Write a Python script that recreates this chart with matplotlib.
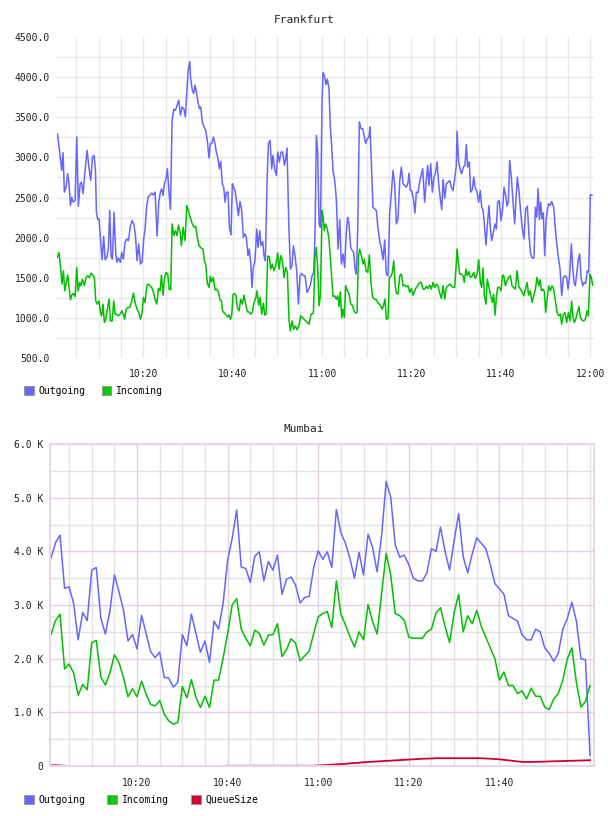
import matplotlib
matplotlib.use("Agg")
import matplotlib.pyplot as plt
import matplotlib.dates as mdates
from matplotlib.patches import Patch
from matplotlib.ticker import MultipleLocator, FixedLocator, FuncFormatter
import numpy as np
import pandas as pd

# ---- Frankfurt (minutes after 10:00, value) ----
fra_out_t = [
    0.77, 1.29, 1.74, 2.04, 2.34, 2.71, 3.08, 3.38, 3.68, 3.98, 4.28, 4.73, 5.10, 5.47, 5.85, 6.14,
    6.52, 6.96, 7.41, 7.86, 8.23, 8.61, 8.98, 9.28, 9.50, 9.80, 10.10, 10.47, 10.77, 11.14, 11.44,
    11.81, 12.19, 12.48, 12.78, 13.08, 13.45, 13.83, 14.12, 14.42, 14.87, 15.17, 15.54, 15.92, 16.29,
    16.66, 17.11, 17.48, 17.86, 18.23, 18.60, 18.97, 19.35, 19.72, 20.09, 20.39, 20.77, 21.14, 21.51,
    21.88, 22.26, 22.63, 23.08, 23.45, 23.82, 24.12, 24.42, 24.72, 25.09, 25.39, 25.69, 26.06, 26.43,
    26.81, 27.18, 27.55, 27.93, 28.30, 28.67, 29.05, 29.42, 29.79, 30.09, 30.39,
    30.59, 30.97, 31.26, 31.56, 31.86, 32.23, 32.53, 32.83, 33.20, 33.58, 33.95, 34.32, 34.70, 34.99,
    35.29, 35.67, 36.04, 36.34, 36.64, 37.01, 37.31, 37.68, 37.98, 38.28, 38.58, 38.95, 39.25, 39.62,
    39.92, 40.22, 40.59, 40.89, 41.26, 41.63, 42.01, 42.38, 42.75, 43.05, 43.42, 43.72, 44.02, 44.32,
    44.62, 44.99, 45.36, 45.66, 46.04, 46.33, 46.71, 47.00, 47.30, 47.68, 47.98, 48.35, 48.72, 49.02,
    49.39, 49.77, 50.06, 50.44, 50.81, 51.18, 51.56, 51.85, 52.15, 52.53, 52.90, 53.27, 53.57, 53.94,
    54.32, 54.69, 55.06, 55.43, 55.81, 56.18, 56.63, 57.00, 57.37, 57.75, 58.12, 58.42, 58.72, 59.02,
    59.31, 59.61, 59.99,
    60.20, 60.57, 60.87, 61.17, 61.54, 61.84, 62.14, 62.44, 62.81, 63.18, 63.56, 63.93, 64.30, 64.68,
    65.05, 65.42, 65.72, 66.02, 66.39, 66.76, 67.06, 67.36, 67.66, 67.96, 68.33, 68.70, 69.08, 69.45,
    69.75, 70.12, 70.49, 70.72, 71.09, 71.39, 71.76, 72.14, 72.43, 72.88, 73.26, 73.63, 74.00, 74.37,
    74.75, 75.12, 75.49, 75.87, 76.24, 76.61, 76.99, 77.36, 77.73, 78.10, 78.48, 78.85, 79.22, 79.45,
    79.75, 80.04, 80.42, 80.79, 81.09, 81.46, 81.83, 82.21, 82.51, 82.95, 83.33, 83.62, 83.92, 84.30,
    84.67, 85.04, 85.41, 85.71, 86.09, 86.46, 86.76, 87.06, 87.43, 87.80, 88.18, 88.55, 88.92, 89.29,
    89.67, 90.04,
    90.18, 90.55, 90.93, 91.22, 91.60, 91.97, 92.27, 92.57, 92.94, 93.24, 93.61, 93.91, 94.28, 94.66,
    95.03, 95.40, 95.70, 96.00, 96.30, 96.67, 96.97, 97.34, 97.64, 97.94, 98.31, 98.68, 98.98, 99.28,
    99.65, 100.03, 100.40, 100.70, 101.07, 101.37, 101.67, 101.97, 102.34, 102.71, 103.09, 103.38,
    103.68, 104.06, 104.43, 104.80, 105.17, 105.55, 105.92, 106.29, 106.67, 107.04, 107.41, 107.71,
    108.01, 108.31, 108.61, 108.90, 109.20, 109.50, 109.80, 110.10, 110.40, 110.69, 110.99, 111.37,
    111.81, 112.19, 112.56, 112.93, 113.23, 113.60, 113.98, 114.35, 114.72, 115.02, 115.39, 115.77,
    116.07, 116.36, 116.66, 117.04, 117.33, 117.63, 117.93, 118.30, 118.60, 118.97, 119.35, 119.65,
    120.02, 120.39,
]
fra_out_v = [
    3295, 3067, 2838, 3058, 2567, 2629, 2796, 2671, 2400, 2504, 2442, 2462, 3254, 2392, 2671, 2692,
    2546, 2838, 3088, 2858, 2712, 3004, 3025, 2838, 2317, 2225, 2233, 1942, 1725, 2017, 1725,
    1754, 1858, 2338, 1775, 1733, 2317, 1796, 1692, 1746, 1692, 1817, 1733, 1942, 1983,
    1962, 2150, 2212, 2171, 2025, 1712, 1921, 1671, 1692, 1983, 2108, 2400, 2512, 2533,
    2554, 2533, 2567, 2017, 2442, 2567, 2608, 2525, 2671, 2733, 2858, 2608, 2350, 3462,
    3600, 3587, 3650, 3712, 3525, 3629, 3608, 3504, 3879, 4108, 4192,
    3983, 3837, 3796, 3900, 3817, 3692, 3608, 3629, 3442, 3379, 3338, 3212, 2992, 3171,
    3171, 3254, 3171, 3067, 3004, 2858, 2950, 2671, 2629, 2442, 2567, 2567, 2129, 2033,
    2671, 2629, 2567, 2442, 2275, 2450, 2338, 2004, 2046, 2004, 1775, 1858, 1692, 1379,
    1629, 1712, 2108, 1879, 2087, 1900, 1950, 1775, 1712, 2692, 3171, 3212, 2858, 3025,
    2858, 2775, 3067, 2942, 3067, 3067, 2900, 2983, 3117, 2192, 1608, 1650, 1900, 1775,
    1587, 1171, 1525, 1554, 1525, 1525, 1317, 1358, 1408, 1525, 1567, 2067, 3275, 3067,
    2171, 2129, 3692,
    4058, 4004, 3908, 3975, 3858, 3379, 3150, 2838, 2712, 2483, 1858, 2225, 1671, 1796,
    1629, 2067, 2254, 2171, 1879, 1837, 1817, 1608, 1546, 2108, 3442, 3358, 3358, 3254,
    3171, 3233, 3254, 3379, 2838, 2379, 2358, 2338, 2150, 1962, 1858, 1725, 1971, 1546,
    1525, 2296, 2546, 2838, 2671, 2171, 2233, 2712, 2879, 2671, 2650, 2629, 2683, 2804,
    2587, 2587, 2483, 2308, 2567, 2558, 2692, 2796, 2858, 2442, 2733, 2900, 2650, 2921,
    2567, 2754, 2817, 2942, 2671, 2475, 2350, 2725, 2492, 2671, 2692, 2712, 2629, 2587,
    2733, 2900,
    3325, 2942, 2838, 2796, 2879, 2900, 3158, 2879, 2942, 2567, 2600, 2754, 2617, 2567,
    2442, 2587, 2379, 2350, 2171, 1908, 2150, 2400, 2129, 1962, 2067, 2171, 2108, 2442,
    2462, 2212, 2358, 2629, 2525, 2392, 2442, 2962, 2754, 2442, 2171, 2483,
    2754, 2567, 2317, 2108, 1983, 2358, 2392, 2025, 1796, 1742, 1754, 2379,
    2254, 2608, 2225, 2442, 2233, 2308, 1775, 2212, 2338, 2421, 2400, 2450,
    2379, 2108, 1892, 1725, 1608, 1275, 1504, 1525, 1504, 1358, 1525, 1921,
    1629, 1442, 1400, 1587, 1733, 1796, 1504, 1400, 1442, 1429, 1587, 1567,
    2533, 2533,
]
fra_in_t = [
    0.77, 1.14, 1.52, 1.82, 2.12, 2.41, 2.79, 3.08, 3.38, 3.68, 3.98, 4.28, 4.73, 5.10, 5.40, 5.77,
    6.07, 6.37, 6.81, 7.19, 7.56, 7.93, 8.31, 8.68, 9.05, 9.35, 9.72, 10.10, 10.40, 10.69, 10.99,
    11.29, 11.59, 11.96, 12.33, 12.63, 13.01, 13.38, 13.68, 14.05, 14.42, 14.80, 15.17, 15.54, 15.84,
    16.14, 16.51, 16.96, 17.41, 17.78, 18.15, 18.60, 18.97, 19.35, 19.72, 20.02, 20.39, 20.77, 21.14,
    21.51, 21.88, 22.26, 22.63, 23.00, 23.38, 23.75, 24.05, 24.42, 24.72, 25.09, 25.46, 25.76, 26.14,
    26.43, 26.81, 27.18, 27.55, 27.85, 28.23, 28.52, 28.90, 29.34, 29.72, 30.09,
    30.59, 30.97, 31.34, 31.71, 32.09, 32.46, 32.91, 33.35, 33.65, 33.95, 34.32, 34.70, 34.99, 35.29,
    35.67, 36.04, 36.41, 36.79, 37.16, 37.46, 37.75, 38.13, 38.50, 38.87, 39.17, 39.47, 39.77, 40.07,
    40.44, 40.74, 41.04, 41.41, 41.78, 42.16, 42.53, 42.90, 43.28, 43.65, 44.02, 44.39, 44.77, 45.14,
    45.44, 45.81, 46.11, 46.48, 46.86, 47.15, 47.45, 47.83, 48.20, 48.50, 48.87, 49.24, 49.62, 50.06,
    50.36, 50.74, 51.11, 51.48, 51.85, 52.23, 52.60, 52.90, 53.27, 53.64, 54.02, 54.39, 54.76, 55.21,
    55.58, 55.96, 56.33, 56.70, 57.08, 57.52, 58.05, 58.42, 58.72, 59.02, 59.31, 59.61, 59.99,
    60.20, 60.50, 60.80, 61.17, 61.54, 61.84, 62.14, 62.44, 62.81, 63.18, 63.48, 63.78, 64.08, 64.38,
    64.68, 64.97, 65.27, 65.65, 66.02, 66.39, 66.76, 67.14, 67.51, 67.81, 68.11, 68.41, 68.78, 69.15,
    69.45, 69.82, 70.20, 70.57, 70.94, 71.32, 71.69, 72.06, 72.43, 72.81, 73.18, 73.48, 73.78, 74.08,
    74.37, 74.75, 75.05, 75.42, 75.72, 76.02, 76.31, 76.61, 76.99, 77.36, 77.73, 78.10, 78.48, 78.85,
    79.22, 79.60, 79.97, 80.34, 80.72, 81.09, 81.46, 81.83, 82.21, 82.58, 82.95, 83.33, 83.70, 84.07,
    84.45, 84.82, 85.19, 85.56, 85.94, 86.31, 86.68, 87.06, 87.43, 87.80, 88.18, 88.55, 88.92, 89.29,
    89.67, 90.04,
    90.18, 90.48, 90.78, 91.15, 91.52, 91.82, 92.19, 92.49, 92.87, 93.16, 93.54, 93.91, 94.28, 94.66,
    95.03, 95.40, 95.70, 96.00, 96.30, 96.67, 96.97, 97.34, 97.71, 98.09, 98.39, 98.68, 98.98, 99.28,
    99.65, 100.03, 100.33, 100.62, 101.00, 101.37, 101.74, 102.12, 102.49, 102.86, 103.24, 103.61,
    103.98, 104.35, 104.73, 105.10, 105.47, 105.85, 106.22, 106.59, 106.97, 107.34, 107.71, 108.08,
    108.46, 108.76, 109.05, 109.43, 109.73, 110.02, 110.32, 110.69, 111.07, 111.44, 111.81, 112.19,
    112.56, 112.93, 113.31, 113.60, 113.98, 114.35, 114.72, 115.10, 115.47, 115.84, 116.14, 116.44,
    116.74, 117.19, 117.48, 117.78, 118.16, 118.53, 118.90, 119.27, 119.57, 119.94, 120.24, 120.54,
]
fra_in_v = [
    1754, 1817, 1608, 1421, 1587, 1337, 1442, 1533, 1379, 1225, 1283, 1304, 1267, 1629, 1337, 1442,
    1400, 1483, 1400, 1504, 1525, 1504, 1558, 1533, 1504, 1212, 1171, 1212, 1067, 1025, 1171,
    942, 983, 1108, 1233, 962, 962, 1212, 1046, 1046, 1025, 1046, 1087, 1046, 983,
    1108, 1129, 1129, 1212, 1308, 1192, 1108, 1067, 983, 1067, 1254, 1192, 1400, 1421,
    1400, 1379, 1317, 1233, 1171, 1367, 1337, 1533, 1283, 1492, 1567, 1546, 1358, 1350,
    2171, 2025, 2087, 2025, 2158, 2067, 1900, 2129, 1962, 2400, 2338,
    2233, 2171, 2129, 2142, 2004, 1900, 1871, 1858, 1712, 1671, 1433, 1379, 1517, 1450,
    1504, 1350, 1358, 1325, 1225, 1212, 1087, 1058, 1037, 1012, 1037, 983, 1025, 1288,
    1304, 1275, 1129, 1087, 1233, 1171, 1283, 1171, 1075, 1075, 1046, 1067, 1192, 1242,
    1337, 1158, 1254, 1046, 1183, 1033, 1046, 1767, 1767, 1608, 1671, 1587, 1650, 1808,
    1608, 1775, 1712, 1504, 1629, 1567, 962, 837, 962, 858, 900, 850, 900, 1025,
    1004, 983, 962, 942, 921, 1046, 1058, 1754, 1879, 1608, 1150, 1275, 2338,
    2275, 2087, 2171, 2108, 1983, 1754, 1504, 1267, 1275, 1233, 1275, 1142, 1325, 1004,
    1108, 1004, 1400, 1337, 1308, 1171, 1158, 1087, 1058, 1067, 1754, 1858, 1775, 1671,
    1733, 1587, 1567, 1783, 1442, 1254, 1233, 1233, 1192, 1171, 1142, 1108, 1171, 1233,
    983, 992, 1504, 1517, 1567, 1712, 1421, 1308, 1296, 1525, 1546, 1400, 1408, 1388,
    1400, 1317, 1367, 1283, 1337, 1379, 1408, 1442, 1442, 1358, 1358, 1392, 1367, 1408,
    1358, 1442, 1379, 1421, 1400, 1308, 1242, 1400, 1233, 1379, 1400, 1421, 1400, 1379,
    1379, 1692,
    1858, 1692, 1546, 1546, 1525, 1442, 1608, 1525, 1575, 1504, 1517, 1567, 1492, 1546,
    1725, 1442, 1379, 1621, 1275, 1171, 1483, 1379, 1283, 1192, 1296, 1033, 1254, 1379,
    1379, 1337, 1525, 1533, 1400, 1462, 1504, 1525, 1400, 1379, 1358, 1587,
    1400, 1358, 1325, 1275, 1358, 1442, 1283, 1337, 1192, 1275, 1358, 1504,
    1400, 1475, 1337, 1358, 1325, 1067, 1212, 1400, 1337, 1400, 1358, 1212,
    1067, 1025, 1046, 921, 1046, 1067, 942, 1067, 962, 1212, 1004, 942,
    983, 1087, 1142, 1004, 971, 962, 983, 1087, 1025, 1546, 1504, 1408,
]

# ---- Mumbai (one sample per minute from 10:01) ----
mum_out = [
    3870, 4160, 4300, 3310, 3340, 3030, 2350, 2860, 2710, 3650, 3700, 2760, 2460, 2880, 3560, 3250,
    2910, 2330, 2450, 2180, 2810, 2470, 2130, 2020, 2120, 1650, 1640, 1470, 1560, 2450, 2240, 2830,
    2470, 2120, 2330, 1930, 2700, 2550, 3030, 3840, 4240,
    4770, 3710, 3680, 3420, 3910, 3990, 3450, 3810, 3650, 3930, 3200, 3480, 3520, 3370, 3040, 3140,
    3160, 3700, 4010, 3850, 3990, 3700, 4780, 4350, 4150, 3870, 3500, 3980, 3560, 4320, 4070, 3620,
    4300, 5300, 5010, 4120, 3890, 3930, 3750, 3500,
    3450, 3450, 3600, 4050, 4000, 4450, 4000, 3650, 4200, 4700, 3900, 3600, 3950, 4250, 4150, 4050,
    3750, 3400, 3300, 3200, 2800, 2750, 2700, 2450, 2350, 2350, 2550, 2500, 2200, 2100, 1950, 2100,
    2550, 2750, 3050, 2700, 2000, 1980, 200,
]
mum_in = [
    2450, 2710, 2830, 1810, 1900, 1730, 1320, 1520, 1420, 2300, 2340, 1660, 1510, 1730, 2070, 1930,
    1650, 1290, 1440, 1290, 1580, 1340, 1150, 1120, 1220, 970, 840, 780, 810, 1480, 1270, 1610,
    1280, 1090, 1300, 1090, 1600, 1600, 2010, 2470, 3000,
    3120, 2550, 2380, 2240, 2530, 2470, 2250, 2440, 2450, 2650, 2040, 2170, 2370, 2290, 1960, 2050,
    2140, 2470, 2780, 2840, 2880, 2580, 3450, 2830, 2630, 2410, 2220, 2500, 2350, 3010, 2690, 2460,
    3220, 3960, 3560, 2840, 2800, 2710, 2400, 2380,
    2380, 2380, 2500, 2550, 2850, 2950, 2600, 2300, 2850, 3200, 2500, 2800, 2650, 2900, 2600, 2400,
    2200, 2000, 1600, 1750, 1500, 1500, 1350, 1400, 1250, 1450, 1300, 1300, 1100, 1050, 1250, 1350,
    1600, 2000, 2200, 1550, 1100, 1200, 1500,
]
mum_queue = [
    10, 15, 10, 5, 0, 0, 0, 0, 0, 0, 0, 0, 0, 0, 0, 0,
    0, 0, 0, 0, 0, 0, 0, 0, 0, 0, 0, 0, 0, 0, 0, 0,
    0, 0, 0, 0, 0, 0, 0, 5, 5, 5, 5, 5, 5, 5, 5, 5,
    5, 5, 5, 5, 5, 5, 5, 5, 5, 5, 5, 10, 15, 20, 25, 30,
    35, 40, 50, 55, 60, 70, 75, 80, 85, 90, 95, 100, 105, 110, 115, 120,
    125, 130, 135, 138, 140, 145, 145, 145, 145, 145, 145, 145, 145, 145, 145, 145,
    140, 135, 130, 125, 115, 105, 95, 85, 78, 75, 75, 78, 80, 82, 85, 88,
    90, 92, 95, 98, 100, 102, 105, 108,
]

top_ticks = ["10:20", "10:40", "11:00", "11:20", "11:40", "12:00"]
bottom_ticks = ["10:20", "10:40", "11:00", "11:20", "11:40"]

C_OUT = "#6666ff"
C_IN = "#00c000"
C_Q = "#cc0033"

day = np.datetime64("2020-01-01T10:00")


def clock(minutes):
    secs = np.round(np.asarray(minutes) * 60).astype(int)
    return day + secs.astype("timedelta64[s]")


def hhmm(labels):
    return [np.datetime64("2020-01-01T" + s) for s in labels]


plt.rcParams["font.family"] = ["DejaVu Sans Mono"]
plt.rcParams["font.size"] = 7

fig = plt.figure(figsize=(6.08, 8.16), dpi=100)
W, H = 608, 816


def box(l, t, r, b):
    return [l / W, 1 - b / H, (r - l) / W, (b - t) / H]


# ---------- Frankfurt ----------
ax1 = fig.add_axes(box(57, 37, 594, 358))
ax1.plot(clock(fra_out_t), fra_out_v, color=C_OUT, lw=1.1)
ax1.plot(clock(fra_in_t), fra_in_v, color=C_IN, lw=1.1)
ax1.set_xlim(clock(0.69), clock(120.83))
ax1.set_ylim(500, 4500)
ax1.yaxis.set_major_locator(MultipleLocator(500))
# horizontal grid every 250, but not on the plot's top/bottom edges
ax1.yaxis.remove_overlapping_locs = False
ax1.yaxis.set_minor_locator(FixedLocator(np.arange(750, 4500, 250)))
ax1.yaxis.set_major_formatter(FuncFormatter(lambda v, p: f"{v:.1f}"))
ax1.set_xticks(hhmm(top_ticks), top_ticks)
ax1.xaxis.set_minor_locator(mdates.MinuteLocator(byminute=range(0, 60, 5)))
ax1.grid(True, axis="x", which="both", color="#e8e8e8", lw=1)
ax1.grid(True, axis="y", which="minor", color="#e8e8e8", lw=1)
ax1.set_axisbelow(True)
for s in ax1.spines.values():
    s.set_visible(False)
ax1.tick_params(which="both", length=0, colors="#222222")
ax1.tick_params(axis="y", pad=5)
ax1.tick_params(axis="x", pad=8)
fig.text(0.5, 1 - 20 / H, "Frankfurt", ha="center", va="center", fontsize=8, color="#222222")

fig.legend(handles=[Patch(facecolor=C_OUT, edgecolor="#999999", lw=0.8, label="Outgoing"),
                    Patch(facecolor="#00cc00", edgecolor="#999999", lw=0.8, label="Incoming")],
           loc="upper left", bbox_to_anchor=(24 / W, 1 - 386 / H), frameon=False, ncol=2,
           fontsize=7, handlelength=1.0, handleheight=1.0, handletextpad=0.5,
           columnspacing=1.65, borderpad=0, borderaxespad=0)

# ---------- Mumbai ----------
mum_t = pd.date_range("2020-01-01 10:01", periods=len(mum_out), freq="1min").to_numpy()
ax2 = fig.add_axes(box(50, 444, 594, 766))
ax2.plot(mum_t, mum_out, color=C_OUT, lw=1.1)
ax2.plot(mum_t, mum_in, color=C_IN, lw=1.1)
ax2.plot(mum_t, mum_queue, color=C_Q, lw=1.3)
ax2.set_xlim(clock(0.79), clock(120.88))
ax2.set_ylim(0, 6000)
ax2.yaxis.set_major_locator(MultipleLocator(1000))
ax2.yaxis.set_minor_locator(MultipleLocator(500))
ax2.yaxis.set_major_formatter(FuncFormatter(lambda v, p: "0" if v == 0 else f"{v / 1000:.1f} K"))
ax2.set_xticks(hhmm(bottom_ticks), bottom_ticks)
ax2.xaxis.set_minor_locator(mdates.MinuteLocator(byminute=range(0, 60, 5)))
ax2.grid(True, which="minor", color="#e2e2e2", lw=1)
ax2.grid(True, which="major", color="#e4d0e4", lw=1)
ax2.set_axisbelow(True)
for s in ax2.spines.values():
    s.set_color("#e8d6e8")
    s.set_linewidth(1.5)
ax2.tick_params(which="both", length=0, colors="#222222")
ax2.tick_params(axis="y", pad=5)
ax2.tick_params(axis="x", pad=9)
fig.text(0.5, 1 - 429 / H, "Mumbai", ha="center", va="center", fontsize=8, color="#222222")

fig.legend(handles=[Patch(facecolor=C_OUT, edgecolor="#999999", lw=0.8, label="Outgoing"),
                    Patch(facecolor="#00cc00", edgecolor="#999999", lw=0.8, label="Incoming"),
                    Patch(facecolor=C_Q, edgecolor="#999999", lw=0.8, label="QueueSize")],
           loc="upper left", bbox_to_anchor=(24 / W, 1 - 795 / H), frameon=False, ncol=3,
           fontsize=7, handlelength=1.0, handleheight=1.0, handletextpad=0.5,
           columnspacing=2.25, borderpad=0, borderaxespad=0)

fig.savefig("out.png", dpi=100)
